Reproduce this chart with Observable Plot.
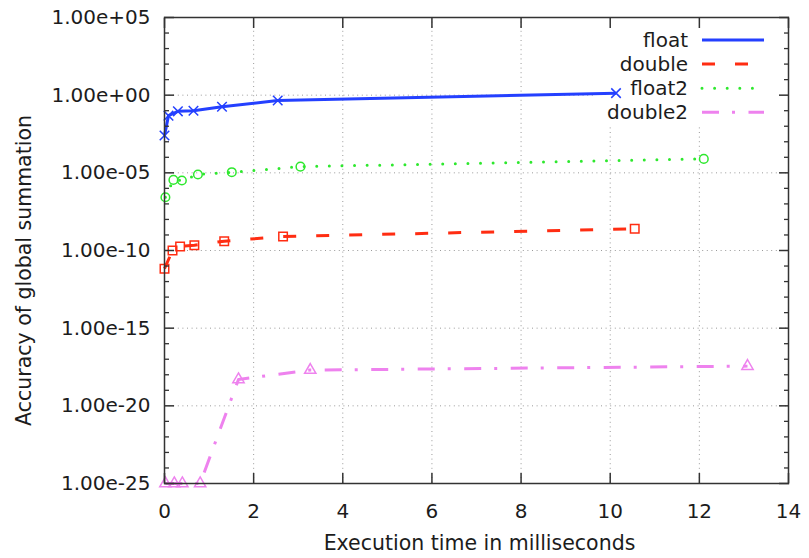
<!DOCTYPE html>
<html><head><meta charset="utf-8">
<script src="https://cdn.jsdelivr.net/npm/d3@7"></script>
<script src="https://cdn.jsdelivr.net/npm/@observablehq/plot@0.6"></script>
<style>
html,body{margin:0;padding:0;background:#fff;}
#chart{position:relative;width:809px;height:558px;}
svg{overflow:visible;}
</style></head><body><div id="chart"></div>
<script>
// ---- data ----
const seriesNames = ["float", "double", "float2", "double2"];
const floatX   = [0.0, 0.09, 0.30, 0.65, 1.29, 2.54, 10.13];
const floatY   = [2.5e-3, 4.8e-2, 9.1e-2, 1.0e-1, 1.8e-1, 4.5e-1, 1.35];
const doubleX  = [0.0, 0.18, 0.35, 0.67, 1.34, 2.66, 10.55];
const doubleY  = [6.8e-12, 1.0e-10, 1.8e-10, 2.2e-10, 4.0e-10, 7.9e-10, 2.5e-9];
const float2X  = [0.02, 0.20, 0.39, 0.75, 1.51, 3.05, 12.1];
const float2Y  = [2.7e-7, 3.5e-6, 3.2e-6, 7.8e-6, 1.1e-5, 2.5e-5, 7.9e-5];
const double2X = [0.02, 0.22, 0.40, 0.80, 1.66, 3.27, 13.08];
const double2Y = [1e-25, 1e-25, 1e-25, 1e-25, 5.0e-19, 2.0e-18, 3.6e-18];

const xTicks = [0, 2, 4, 6, 8, 10, 12, 14];
const xGridTicks = [2, 4, 6, 8, 10, 12];
const yMajorTicks = [1e5, 1e0, 1e-5, 1e-10, 1e-15, 1e-20, 1e-25];
const yMajorLabels = ["1.00e+05", "1.00e+00", "1.00e-05", "1.00e-10", "1.00e-15", "1.00e-20", "1.00e-25"];
const yMinorTicks = [1e4,1e3,1e2,1e1, 1e-1,1e-2,1e-3,1e-4, 1e-6,1e-7,1e-8,1e-9,
  1e-11,1e-12,1e-13,1e-14, 1e-16,1e-17,1e-18,1e-19, 1e-21,1e-22,1e-23,1e-24];
const xLabel = "Execution time in milliseconds";
const yLabel = "Accuracy of global summation";

// ---- styles ----
const styles = {
  float:   {stroke: "#2440ff", dash: null, cap: "butt", symbol: "times", r: 4.4},
  double:  {stroke: "#ff2d12", dash: "13,20", cap: "butt", symbol: "square", r: 4.8},
  float2:  {stroke: "#2ee82e", dash: "0,12.6", cap: "round", symbol: "circle", r: 4.3},
  double2: {stroke: "#ee82ee", dash: "17,13,3,13.5", cap: "butt", symbol: "triangle", r: 4.2}
};

const seriesData = {float: [floatX, floatY], double: [doubleX, doubleY], float2: [float2X, float2Y], double2: [double2X, double2Y]};
const table = seriesNames.map(name => seriesData[name][0].map((x, i) => ({series: name, x, y: seriesData[name][1][i]})));

const FONT = "DejaVu Sans";
const FS = 20;
const FS_TITLE = 20.5;
const ink = "#1c1c1c";
const axisInk = "#333";
const labelOf = v => yMajorLabels[yMajorTicks.indexOf(v)];

const marks = [
  Plot.gridX(xGridTicks, {stroke: "#9a9a9a", strokeOpacity: 1, strokeWidth: 1, strokeDasharray: "1,3.6"}),
  Plot.gridY(yMajorTicks.slice(1, -1), {stroke: "#9a9a9a", strokeOpacity: 1, strokeWidth: 1, strokeDasharray: "1,3.6"})
];
table.forEach((pts, k) => {
  const st = styles[seriesNames[k]];
  marks.push(Plot.line(pts, {x: "x", y: "y", stroke: st.stroke, strokeWidth: 3, strokeDasharray: st.dash, strokeLinecap: st.cap, curve: "linear"}));
});
table.forEach((pts, k) => {
  const st = styles[seriesNames[k]];
  marks.push(Plot.dot(pts, {x: "x", y: "y", symbol: () => st.symbol, r: st.r, stroke: st.stroke, strokeWidth: 1.5, fill: "none"}));
});
marks.push(
  Plot.frame({stroke: axisInk, strokeWidth: 1.5}),
  Plot.axisX({anchor: "bottom", ticks: xTicks, tickSize: -10, tickPadding: 30, stroke: axisInk, fill: ink, label: null, strokeWidth: 1.5}),
  Plot.axisX({anchor: "top", ticks: xTicks, tickSize: -10, stroke: axisInk, fill: "none", label: null, strokeWidth: 1.5}),
  Plot.axisY({anchor: "left", ticks: yMajorTicks, tickSize: -10, tickPadding: 24, tickFormat: labelOf, stroke: axisInk, fill: ink, label: null, strokeWidth: 1.5}),
  Plot.axisY({anchor: "left", ticks: yMinorTicks, tickSize: -5, stroke: axisInk, fill: "none", label: null, strokeWidth: 1.3}),
  Plot.axisY({anchor: "right", ticks: yMajorTicks, tickSize: -10, stroke: axisInk, fill: "none", label: null, strokeWidth: 1.5}),
  Plot.axisY({anchor: "right", ticks: yMinorTicks, tickSize: -5, stroke: axisInk, fill: "none", label: null, strokeWidth: 1.3}),
  Plot.text([xLabel], {frameAnchor: "bottom", textAnchor: "middle", dy: 66, dx: 3, fill: ink, fontSize: FS_TITLE}),
  Plot.text([yLabel], {frameAnchor: "left", textAnchor: "middle", rotate: -90, dx: -140, dy: 20, fill: ink, fontSize: FS_TITLE})
);

const svg = Plot.plot({
  width: 809, height: 558,
  marginLeft: 164, marginRight: 21, marginTop: 17, marginBottom: 75,
  x: {domain: [0, 14]},
  y: {type: "log", domain: [1e-25, 1e5]},
  style: {fontFamily: FONT, fontSize: FS + "px", color: ink, background: "#fff"},
  marks
});

// ---- key (opaque box inside the plot, top right) ----
const ns = "http://www.w3.org/2000/svg";
const firstLine = svg.querySelector('g[aria-label="line"]');
const bg = document.createElementNS(ns, "rect");
bg.setAttribute("x", 596); bg.setAttribute("y", 18);
bg.setAttribute("width", 192); bg.setAttribute("height", 106);
bg.setAttribute("fill", "#fff");
firstLine.parentNode.insertBefore(bg, firstLine);

const key = d3.select(svg).append("g").attr("font-family", FONT).attr("font-size", FS);
seriesNames.forEach((name, i) => {
  const st = styles[name];
  const cy = 40 + i * 24.1;
  key.append("text").attr("x", 688).attr("y", cy).attr("dy", "0.35em")
    .attr("text-anchor", "end").attr("fill", ink).text(name);
  key.append("line").attr("x1", 702).attr("x2", 764).attr("y1", cy).attr("y2", cy)
    .attr("stroke", st.stroke).attr("stroke-width", 3)
    .attr("stroke-dasharray", st.dash).attr("stroke-linecap", st.cap);
});

document.getElementById("chart").appendChild(svg);
</script>
</body></html>
